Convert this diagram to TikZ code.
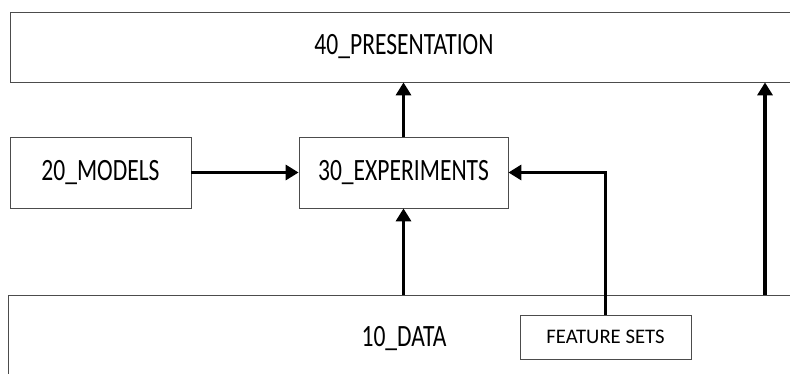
\documentclass[tikz,border=0pt]{standalone}
\usepackage{fontspec}
\setmainfont{Carlito}
\usetikzlibrary{arrows.meta}
\newcommand{\narrow}[1]{\scalebox{0.76}[1]{#1}}

\begin{document}
\begin{tikzpicture}[line join=miter,x=1pt,y=-1pt,
	block/.style={draw=black!70,line width=0.8pt,inner sep=0pt,font=\fontsize{31}{31}\selectfont},
	small/.style={draw=black!70,line width=0.8pt,inner sep=0pt,font=\fontsize{20.7}{21}\selectfont},
	flow/.style={line width=3.6pt,-{Triangle[length=13pt,width=15pt]}}]
			\useasboundingbox (0,0) rectangle (790,374);
			\clip (0,0) rectangle (790,374);
			\node [block,minimum width=788,minimum height=70] (pres) at (404,47) {\narrow{40\_PRESENTATION}};
			\node [block,minimum width=181,minimum height=71] (models) at (100.5,172.5) {\narrow{20\_MODELS}};
			\node [block,minimum width=209,minimum height=71] (exps) at (403.5,172.5) {\narrow{30\_EXPERIMENTS}};
			\node [block,minimum width=792,minimum height=88] (data) at (404,339) {\narrow{10\_DATA}};
			\node [small,minimum width=171,minimum height=44,fill=white] (feat) at (605.5,337) {FEATURE SETS};
			\coordinate (side) at (765,0);
			\draw [flow] (models.east) -- (exps.west);
			\draw [flow] (exps.north) -- (exps.north |- pres.south);
			\draw [flow] (exps.south |- data.north) -- (exps.south);
			\draw [flow] (feat.north) |- (exps.east);
			\draw [flow] (data.north -| side) -- (pres.south -| side);
\end{tikzpicture}
\end{document}
